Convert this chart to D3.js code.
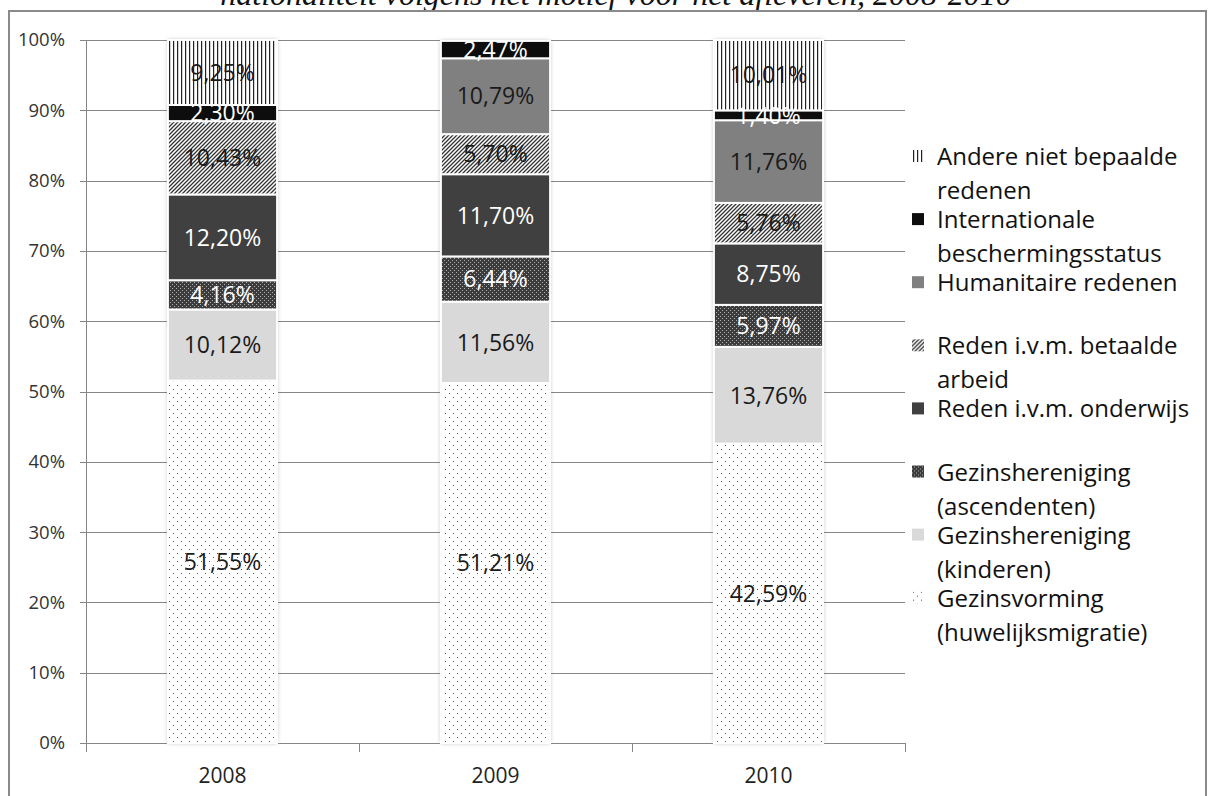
<!DOCTYPE html>
<html>
<head>
	<meta charset="utf-8">
	<script src="https://cdnjs.cloudflare.com/ajax/libs/d3/7.8.5/d3.min.js"></script>
	<style>
		html, body {
			margin: 0;
			padding: 0;
			background: #fff;
		}
		svg text {
			font-family: 'Open Sans', 'Noto Sans', sans-serif;
		}
	</style>
</head>
<body>
	<script>
		// categories and series (bottom of the stack first)
		var years = ["2008", "2009", "2010"];
		var motives = [
			"Gezinsvorming (huwelijksmigratie)",
			"Gezinshereniging (kinderen)",
			"Gezinshereniging (ascendenten)",
			"Reden i.v.m. onderwijs",
			"Reden i.v.m. betaalde arbeid",
			"Humanitaire redenen",
			"Internationale beschermingsstatus",
			"Andere niet bepaalde redenen"
		];
		var gezinsvorming = [51.55, 51.21, 42.59];
		var kinderen = [10.12, 11.56, 13.76];
		var ascendenten = [4.16, 6.44, 5.97];
		var onderwijs = [12.20, 11.70, 8.75];
		var arbeid = [10.43, 5.70, 5.76];
		var humanitair = [0, 10.79, 11.76];
		var bescherming = [2.30, 2.47, 1.40];
		var andere = [9.25, 0, 10.01];
		var yTicks = [0, 10, 20, 30, 40, 50, 60, 70, 80, 90, 100];
		// legend order (top to bottom), wrapped as in the original
		var legendLines = [
			["Andere niet bepaalde", "redenen"],
			["Internationale", "beschermingsstatus"],
			["Humanitaire redenen"],
			["Reden i.v.m. betaalde", "arbeid"],
			["Reden i.v.m. onderwijs"],
			["Gezinshereniging", "(ascendenten)"],
			["Gezinshereniging", "(kinderen)"],
			["Gezinsvorming", "(huwelijksmigratie)"]
		];
		var titleText = "nationaliteit volgens het motief voor het afleveren, 2008-2010";

		var series = [gezinsvorming, kinderen, ascendenten, onderwijs, arbeid, humanitair, bescherming, andere];
		var rows = years.map(function(y, i) {
			var r = {year: y};
			motives.forEach(function(m, k) { r[m] = series[k][i]; });
			return r;
		});

		var fills = ["url(#p-dots)", "#d9d9d9", "url(#p-asc)", "#404040", "url(#p-diag)", "#808080", "#0d0d0d", "url(#p-vert)"];
		var labelColor = ["#1a1a1a", "#1a1a1a", "#ffffff", "#ffffff", "#1a1a1a", "#1a1a1a", "#ffffff", "#1a1a1a"];

		var svg = d3.select("body").append("svg")
			.attr("width", 1208)
			.attr("height", 796);

		var defs = svg.append("defs");

		// dotted (Gezinsvorming)
		var pd = defs.append("pattern").attr("id", "p-dots")
			.attr("width", 8).attr("height", 8).attr("patternUnits", "userSpaceOnUse");
		pd.append("rect").attr("width", 8).attr("height", 8).attr("fill", "#fff");
		pd.append("rect").attr("x", 1).attr("y", 1).attr("width", 1).attr("height", 1).attr("fill", "#555");
		pd.append("rect").attr("x", 5).attr("y", 5).attr("width", 1).attr("height", 1).attr("fill", "#555");

		// dark with light dots (ascendenten)
		var pa = defs.append("pattern").attr("id", "p-asc")
			.attr("width", 4).attr("height", 4).attr("patternUnits", "userSpaceOnUse");
		pa.append("rect").attr("width", 4).attr("height", 4).attr("fill", "#3c3c3c");
		pa.append("rect").attr("x", 0).attr("y", 0).attr("width", 1).attr("height", 1).attr("fill", "#b0b0b0");
		pa.append("rect").attr("x", 2).attr("y", 2).attr("width", 1).attr("height", 1).attr("fill", "#b0b0b0");

		// upward diagonal (betaalde arbeid)
		var pg = defs.append("pattern").attr("id", "p-diag")
			.attr("width", 4).attr("height", 4).attr("patternUnits", "userSpaceOnUse");
		pg.append("rect").attr("width", 4).attr("height", 4).attr("fill", "#fff");
		pg.append("path").attr("d", "M-1,1 l2,-2 M0,4 l4,-4 M3,5 l2,-2")
			.attr("stroke", "#333").attr("stroke-width", 1.3);

		// vertical lines (andere)
		var pv = defs.append("pattern").attr("id", "p-vert")
			.attr("width", 4).attr("height", 4).attr("patternUnits", "userSpaceOnUse");
		pv.append("rect").attr("width", 4).attr("height", 4).attr("fill", "#fff");
		pv.append("rect").attr("x", 1).attr("width", 1.2).attr("height", 4).attr("fill", "#222");

		var shadow = defs.append("filter").attr("id", "shadow")
			.attr("x", "-20%").attr("y", "-5%").attr("width", "140%").attr("height", "110%");
		shadow.append("feDropShadow").attr("dx", 0).attr("dy", 0).attr("stdDeviation", 2)
			.attr("flood-color", "#000").attr("flood-opacity", 0.3);

		// outer frame + title (cut off at the top, as in the source)
		svg.append("text")
			.attr("x", 616).attr("y", 5)
			.attr("text-anchor", "middle")
			.style("font-family", "'Liberation Serif', serif")
			.style("font-style", "italic")
			.attr("font-size", 32)
			.attr("fill", "#111")
			.text(titleText);

		svg.append("rect")
			.attr("x", 9).attr("y", 11)
			.attr("width", 1197).attr("height", 800)
			.attr("fill", "none")
			.attr("stroke", "#8a8a8a")
			.attr("stroke-width", 2);

		var x = d3.scaleBand().domain(years).range([86, 905]).paddingInner(0.6).paddingOuter(0.3);
		var y = d3.scaleLinear().domain([0, 100]).range([743, 40]);

		// gridlines
		svg.append("g").selectAll("line")
			.data(yTicks)
			.enter().append("line")
			.attr("x1", 80).attr("x2", 905)
			.attr("y1", function(d) { return Math.round(y(d)) + 0.5; })
			.attr("y2", function(d) { return Math.round(y(d)) + 0.5; })
			.attr("stroke", "#868686");

		svg.append("g").selectAll("text")
			.data(yTicks)
			.enter().append("text")
			.attr("x", 65)
			.attr("y", function(d) { return y(d); })
			.attr("dy", "0.35em")
			.attr("text-anchor", "end")
			.attr("font-size", 18.5)
			.attr("fill", "#333")
			.text(function(d) { return d + "%"; });

		// y axis line and category ticks
		svg.append("line")
			.attr("x1", 86.5).attr("x2", 86.5)
			.attr("y1", y(100)).attr("y2", y(0))
			.attr("stroke", "#868686");

		var bounds = [0, 1, 2, 3].map(function(i) { return 86 + i * x.step(); });
		svg.append("g").selectAll("line")
			.data(bounds)
			.enter().append("line")
			.attr("x1", function(d) { return Math.round(d) + 0.5; })
			.attr("x2", function(d) { return Math.round(d) + 0.5; })
			.attr("y1", y(0)).attr("y2", y(0) + 9)
			.attr("stroke", "#868686");

		svg.append("g").selectAll("text")
			.data(years)
			.enter().append("text")
			.attr("x", function(d) { return x(d) + x.bandwidth() / 2; })
			.attr("y", 783)
			.attr("text-anchor", "middle")
			.attr("font-size", 21)
			.attr("fill", "#222")
			.text(function(d) { return d; });

		var stacked = d3.stack().keys(motives)(rows);

		// bar shadows
		svg.append("g").selectAll("rect")
			.data(rows)
			.enter().append("rect")
			.attr("x", function(d) { return x(d.year); })
			.attr("width", x.bandwidth())
			.attr("y", function(d, i) { return y(d3.sum(series, function(s) { return s[i]; })); })
			.attr("height", function(d, i) { return y(0) - y(d3.sum(series, function(s) { return s[i]; })); })
			.attr("fill", "#fff")
			.attr("filter", "url(#shadow)");

		var layers = svg.append("g").selectAll("g")
			.data(stacked)
			.enter().append("g")
			.attr("fill", function(d, i) { return fills[i]; });

		layers.selectAll("rect")
			.data(function(d) { return d.filter(function(p) { return p[1] - p[0] > 0; }); })
			.enter().append("rect")
			.attr("x", function(d) { return x(d.data.year); })
			.attr("width", x.bandwidth())
			.attr("y", function(d) { return y(d[1]); })
			.attr("height", function(d) { return y(d[0]) - y(d[1]); })
			.attr("stroke", "#fff")
			.attr("stroke-width", 2);

		// value labels
		stacked.forEach(function(layer, k) {
			svg.append("g").selectAll("text")
				.data(layer.filter(function(p) { return p[1] - p[0] > 0; }))
				.enter().append("text")
				.attr("x", function(d) { return x(d.data.year) + x.bandwidth() / 2; })
				.attr("y", function(d) { return y((d[0] + d[1]) / 2); })
				.attr("dy", "0.36em")
				.attr("text-anchor", "middle")
				.attr("font-size", 23)
				.attr("fill", labelColor[k])
				.text(function(d) { return (d[1] - d[0]).toFixed(2).replace(".", ",") + "%"; });
		});

		// legend
		var legendFills = fills.slice().reverse();
		var legend = svg.append("g").selectAll("g")
			.data(legendLines)
			.enter().append("g")
			.attr("transform", function(d, i) { return "translate(912," + (165 + i * 63.1) + ")"; });

		legend.append("rect")
			.attr("x", 0).attr("y", -15)
			.attr("width", 12).attr("height", 12)
			.attr("fill", function(d, i) { return legendFills[i]; });

		legend.append("text")
			.attr("x", 25)
			.attr("font-size", 24)
			.attr("fill", "#111")
			.selectAll("tspan")
			.data(function(d) { return d; })
			.enter().append("tspan")
			.attr("x", 25)
			.attr("y", function(d, j) { return j * 34; })
			.text(function(d) { return d; });
	</script>
</body>
</html>
